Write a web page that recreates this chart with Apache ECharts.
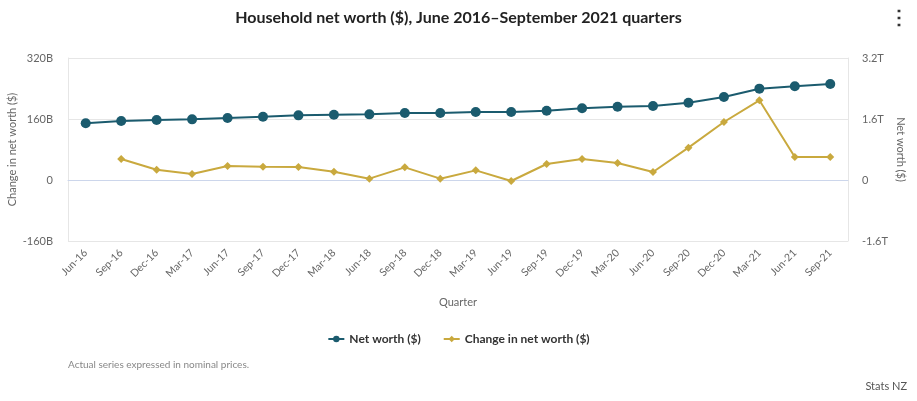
<!DOCTYPE html>
<html>
<head>
<meta charset="utf-8">
<script src="https://cdn.jsdelivr.net/npm/echarts@6/dist/echarts.min.js"></script>
<style>
html,body{margin:0;padding:0;background:#fff;}
#c{width:917px;height:401px;}
</style>
</head>
<body>
<div id="c"></div>
<script>
const categories = ["Jun-16","Sep-16","Dec-16","Mar-17","Jun-17","Sep-17","Dec-17","Mar-18","Jun-18","Sep-18","Dec-18","Mar-19","Jun-19","Sep-19","Dec-19","Mar-20","Jun-20","Sep-20","Dec-20","Mar-21","Jun-21","Sep-21"];
// Net worth, trillions of dollars (right axis)
const netWorth = [1.487,1.548,1.574,1.591,1.626,1.661,1.696,1.713,1.722,1.757,1.757,1.784,1.784,1.818,1.880,1.923,1.941,2.028,2.177,2.396,2.457,2.518];
// Change in net worth, billions of dollars (left axis)
const changeNetWorth = [null,55.1,27.1,15.7,36.7,35.0,34.2,21.9,3.5,33.2,3.5,25.3,-2.6,42.0,55.1,44.6,21.0,84.8,152.1,209.0,60.3,60.3];
const leftTicks = [-160,0,160,320];
const rightTicks = [-1.6,0,1.6,3.2];

const FONT = 'Lato, "Open Sans", sans-serif';
const chart = echarts.init(document.getElementById('c'));
chart.setOption({
  animation: false,
  textStyle: {fontFamily: FONT},
  title: {
    text: 'Household net worth ($), June 2016\u2013September 2021 quarters',
    left: 'center', top: 5,
    textStyle: {fontSize: 16, fontWeight: 'bold', color: '#222', fontFamily: FONT}
  },
  graphic: [
    {type: 'text', right: 8, top: 8, style: {text: '\u22EE', fontSize: 20, fontWeight: 'bold', fill: '#333'}},
    {type: 'text', left: 68, top: 360, style: {text: 'Actual series expressed in nominal prices.', fontSize: 10, fill: '#888', fontFamily: FONT}},
    {type: 'text', right: 10, top: 381, style: {text: 'Stats NZ', fontSize: 11, fill: '#555', fontFamily: FONT}}
  ],
  legend: {
    top: 328, left: 'center', itemWidth: 16, itemHeight: 8, itemGap: 22,
    textStyle: {fontSize: 12, fontWeight: 'bold', color: '#333', fontFamily: FONT},
    data: ['Net worth ($)', 'Change in net worth ($)']
  },
  grid: {left: 68, right: 69, top: 58, bottom: 160, containLabel: false, outerBoundsMode: 'none'},
  xAxis: {
    type: 'category', data: categories, boundaryGap: true,
    name: 'Quarter', nameLocation: 'middle', nameGap: 56, nameMoveOverlap: false,
    nameTextStyle: {color: '#666', fontSize: 11},
    axisLine: {lineStyle: {color: '#ccd6eb'}},
    axisTick: {alignWithLabel: true, length: 10, lineStyle: {color: '#ccd6eb'}},
    axisLabel: {rotate: 45, color: '#666', fontSize: 10.5, margin: 10, interval: 0}
  },
  yAxis: [
    {
      type: 'value', min: -160, max: 320, interval: 160,
      name: 'Change in net worth ($)', nameLocation: 'middle', nameGap: 50, nameRotate: 90,
      nameMoveOverlap: false,
      nameTextStyle: {color: '#666', fontSize: 11},
      axisLine: {show: true, lineStyle: {color: '#e6e6e6'}},
      splitLine: {lineStyle: {color: '#e6e6e6'}},
      axisLabel: {color: '#666', fontSize: 11, margin: 15,
        formatter: v => v === 0 ? '0' : v + 'B'}
    },
    {
      type: 'value', min: -1.6, max: 3.2, interval: 1.6,
      name: 'Net worth ($)', nameLocation: 'middle', nameGap: 47, nameRotate: -90,
      nameMoveOverlap: false,
      nameTextStyle: {color: '#666', fontSize: 11},
      axisLine: {show: true, lineStyle: {color: '#e6e6e6'}},
      splitLine: {show: false},
      axisLabel: {color: '#666', fontSize: 11, margin: 14,
        formatter: v => v === 0 ? '0' : (Math.round(v * 10) / 10) + 'T'}
    }
  ],
  series: [
    {
      name: 'Net worth ($)', type: 'line', yAxisIndex: 1, data: netWorth,
      symbol: 'circle', symbolSize: 10,
      lineStyle: {width: 2, color: '#1b5b6e'},
      itemStyle: {color: '#1b5b6e'}
    },
    {
      name: 'Change in net worth ($)', type: 'line', yAxisIndex: 0, data: changeNetWorth,
      symbol: 'diamond', symbolSize: 8,
      lineStyle: {width: 2, color: '#c9a93e'},
      itemStyle: {color: '#c9a93e'}
    }
  ]
});
</script>
</body>
</html>
